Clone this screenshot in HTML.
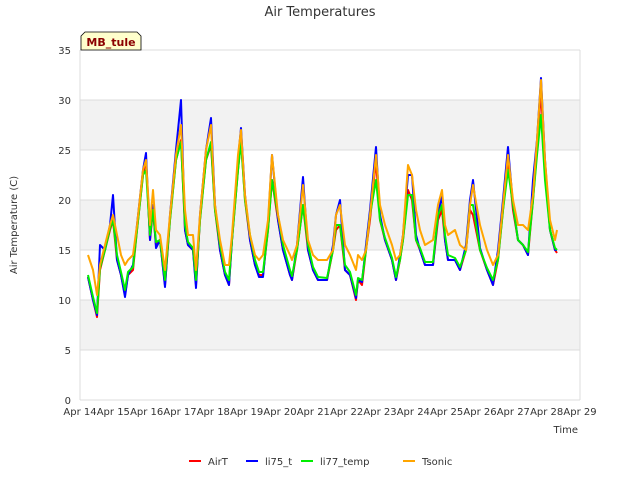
<!DOCTYPE html>
<html><head><meta charset="utf-8"><style>
body{margin:0;background:#fff;font-family:"Liberation Sans","DejaVu Sans",sans-serif}
svg text{font-family:"DejaVu Sans","Liberation Sans",sans-serif}
</style></head><body>
<svg id="c" width="640" height="480" xmlns="http://www.w3.org/2000/svg">
<rect width="640" height="480" fill="#fff"/>
<g id="bands"></g><g id="grid"></g>
<text x="320" y="16" text-anchor="middle" font-size="13" fill="#333">Air Temperatures</text>
<text transform="translate(17,225) rotate(-90)" text-anchor="middle" font-size="10" fill="#333">Air Temperature (C)</text>
<text x="578" y="433" text-anchor="end" font-size="10" fill="#333">Time</text>
<g id="ticks"></g><g id="series"></g>
<g>
<path d="M81,50 L81,36 L85,32 L137,32 L141,36 L141,50 Z" fill="#ffffcc" stroke="#000" stroke-width="0.8"/>
<text x="111" y="46" text-anchor="middle" font-size="11" font-weight="bold" fill="#8b0000">MB_tule</text>
</g>
<g id="legend"></g>
</svg>
<script>
const times=[0.24,0.39,0.51,0.6,0.75,0.9,0.99,1.11,1.23,1.35,1.44,1.59,1.71,1.89,1.98,2.1,2.19,2.28,2.4,2.55,2.7,2.88,3.03,3.15,3.24,3.39,3.48,3.6,3.78,3.93,4.05,4.2,4.35,4.47,4.56,4.74,4.83,4.95,5.1,5.25,5.37,5.49,5.64,5.76,5.94,6.09,6.3,6.36,6.51,6.69,6.84,6.99,7.14,7.41,7.59,7.68,7.8,7.95,8.1,8.28,8.34,8.46,8.58,8.7,8.88,9.0,9.15,9.36,9.48,9.6,9.69,9.84,9.96,10.08,10.2,10.35,10.59,10.74,10.86,10.95,11.04,11.25,11.4,11.58,11.7,11.79,12.0,12.21,12.39,12.54,12.69,12.84,12.99,13.14,13.29,13.44,13.59,13.71,13.83,13.95,14.1,14.25,14.31];
const airT=[12.3,10,8.3,13,15,17,18,14,12.5,10.5,12.5,13,17,22.5,24,16,19,15.5,16,11.5,18,24,26,17,15.5,15,11.5,18,24,25.5,19,15,12.5,11.5,16,23,26,20,16,13.5,12.5,12.5,17,22,18,15,12.5,12,15,19.5,15,13,12,12,15,17,17.5,13,12.5,10,12,11.5,15,18,24,18,16,14,12,14,16,21,20,16,15,13.5,13.5,18,19,16,14,14,13,15,19,18.5,15,13,11.5,14,19,24,19,16,15.5,14.5,20,25,31,23,17,15,14.7];
const li75=[12.3,10,8.5,15.5,15,17.5,20.5,14,12.5,10.3,12.5,13.5,17.5,23,24.7,16,19.5,15.2,16,11.3,18.5,25,30,17,15.5,15,11.2,18.5,25,28.2,19.5,15,12.5,11.5,16,24,27.2,20.5,16,13.5,12.3,12.3,17.5,24.5,18,15,12.5,12,15.5,22.3,15,13,12,12,15.5,18.5,20,13,12.5,10.2,12,11.8,15.5,19,25.3,18.5,16,14,12,14.5,16.5,22.5,22.5,16.5,15,13.5,13.5,18.5,20.5,16,14,14,13,15.5,20,22,15.2,13,11.5,15,20,25.3,19.5,16,15.5,14.5,22,26,32.2,24,17,15,15];
const li77=[12.5,10.3,8.7,13.2,15,17.2,18,14.5,12.8,11,12.8,13.3,17,22.5,23,16.5,19,15.8,16,12,18,24,25.8,17.5,15.8,15.2,12,18,24,25.8,19,15.5,12.8,12,16,23,25.8,20,16.5,14,12.8,12.8,17,22,18.5,15.5,13,12.4,15,19.5,15.5,13.3,12.3,12.2,15,17.5,17.5,13.5,12.8,10.5,12.2,12,15,18.5,22,18,16.2,14.2,12.3,14,16,20.5,20.5,16,15.2,13.8,13.8,18.5,19.5,16.5,14.5,14.2,13.3,15,19.5,19.5,15,13.2,12,14,19,23,19.5,16,15.5,14.8,20,24.5,28.5,22,17,15.2,15];
const tsonic=[14.5,13,10.5,13.5,15.5,17.5,18.5,16.5,14.5,13.5,14,14.5,17.5,23,24,17.5,21,17,16.5,13,18.5,24.5,27.5,19,16.5,16.5,13,18.5,25,27.5,19.5,16,13.5,13.5,16.5,24.5,27,20.5,16.5,14.5,14,14.5,18,24.5,18.5,16,14.5,14,15.5,21.5,16,14.5,14,14,15,18.5,19.5,15.5,14.5,13,14.5,14,15,18.5,24.5,19.5,17.5,15.5,14,14.5,16.5,23.5,22.5,19,17,15.5,16,19.5,21,17.5,16.5,17,15.5,15,19.5,21.5,17.5,15,13.5,14.5,19.5,24.5,20,17.5,17.5,17,20.5,26,32,24,18,16,17];
const yTicks=[0,5,10,15,20,25,30,35];
const xTickLabels=["Apr 14","Apr 15","Apr 16","Apr 17","Apr 18","Apr 19","Apr 20","Apr 21","Apr 22","Apr 23","Apr 24","Apr 25","Apr 26","Apr 27","Apr 28","Apr 29"];
const seriesNames=["AirT","li75_t","li77_temp","Tsonic"];
const seriesColors=["#ff0000","#0000ff","#00ee00","#ffa500"];
const seriesData=[airT,li75,li77,tsonic];
const NS="http://www.w3.org/2000/svg";
const X0=80,X1=580,Y0=400,Y1=50;
const xs=d=>X0+d*(X1-X0)/15, ys=v=>Y0-v*(Y0-Y1)/35;
function mk(t,a,p){const e=document.createElementNS(NS,t);for(const k in a)e.setAttribute(k,a[k]);p.appendChild(e);return e;}
const bands=document.getElementById('bands'),grid=document.getElementById('grid'),ticks=document.getElementById('ticks');
for(let i=1;i<yTicks.length-1;i+=2){const b=mk('rect',{x:X0,y:ys(yTicks[i+1]),width:X1-X0,height:ys(yTicks[i])-ys(yTicks[i+1]),fill:'#f2f2f2'},bands);

}
yTicks.forEach(v=>{const l=mk('line',{x1:X0,x2:X1,y1:ys(v),y2:ys(v),stroke:'#dcdcdc','stroke-width':1},grid);


const t=mk('text',{x:X0-9,y:ys(v)+4,'text-anchor':'end','font-size':10,fill:'#333'},ticks);t.textContent=v;

});
mk('line',{x1:X0,x2:X0,y1:Y1,y2:Y0,stroke:'#dcdcdc'},grid);mk('line',{x1:X1,x2:X1,y1:Y1,y2:Y0,stroke:'#dcdcdc'},grid);
xTickLabels.forEach((s,i)=>{const t=mk('text',{x:xs(i),y:Y0+15,'text-anchor':'middle','font-size':10,fill:'#333'},ticks);t.textContent=s;

});
const sg=document.getElementById('series');
seriesData.forEach((arr,si)=>{const pts=arr.map((v,i)=>xs(times[i]).toFixed(1)+','+ys(v).toFixed(1)).join(' ');
const p=mk('polyline',{points:pts,fill:'none',stroke:seriesColors[si],'stroke-width':2,'stroke-linejoin':'round'},sg);

});
const lg=document.getElementById('legend');const lx=[189,246,301,403];
seriesNames.forEach((n,i)=>{const g=mk('g',{},lg);


mk('line',{x1:lx[i],x2:lx[i]+12,y1:461,y2:461,stroke:seriesColors[i],'stroke-width':2},g);
const t=mk('text',{x:lx[i]+19,y:465,'font-size':10,fill:'#333'},g);t.textContent=n;});
</script>
</body></html>
